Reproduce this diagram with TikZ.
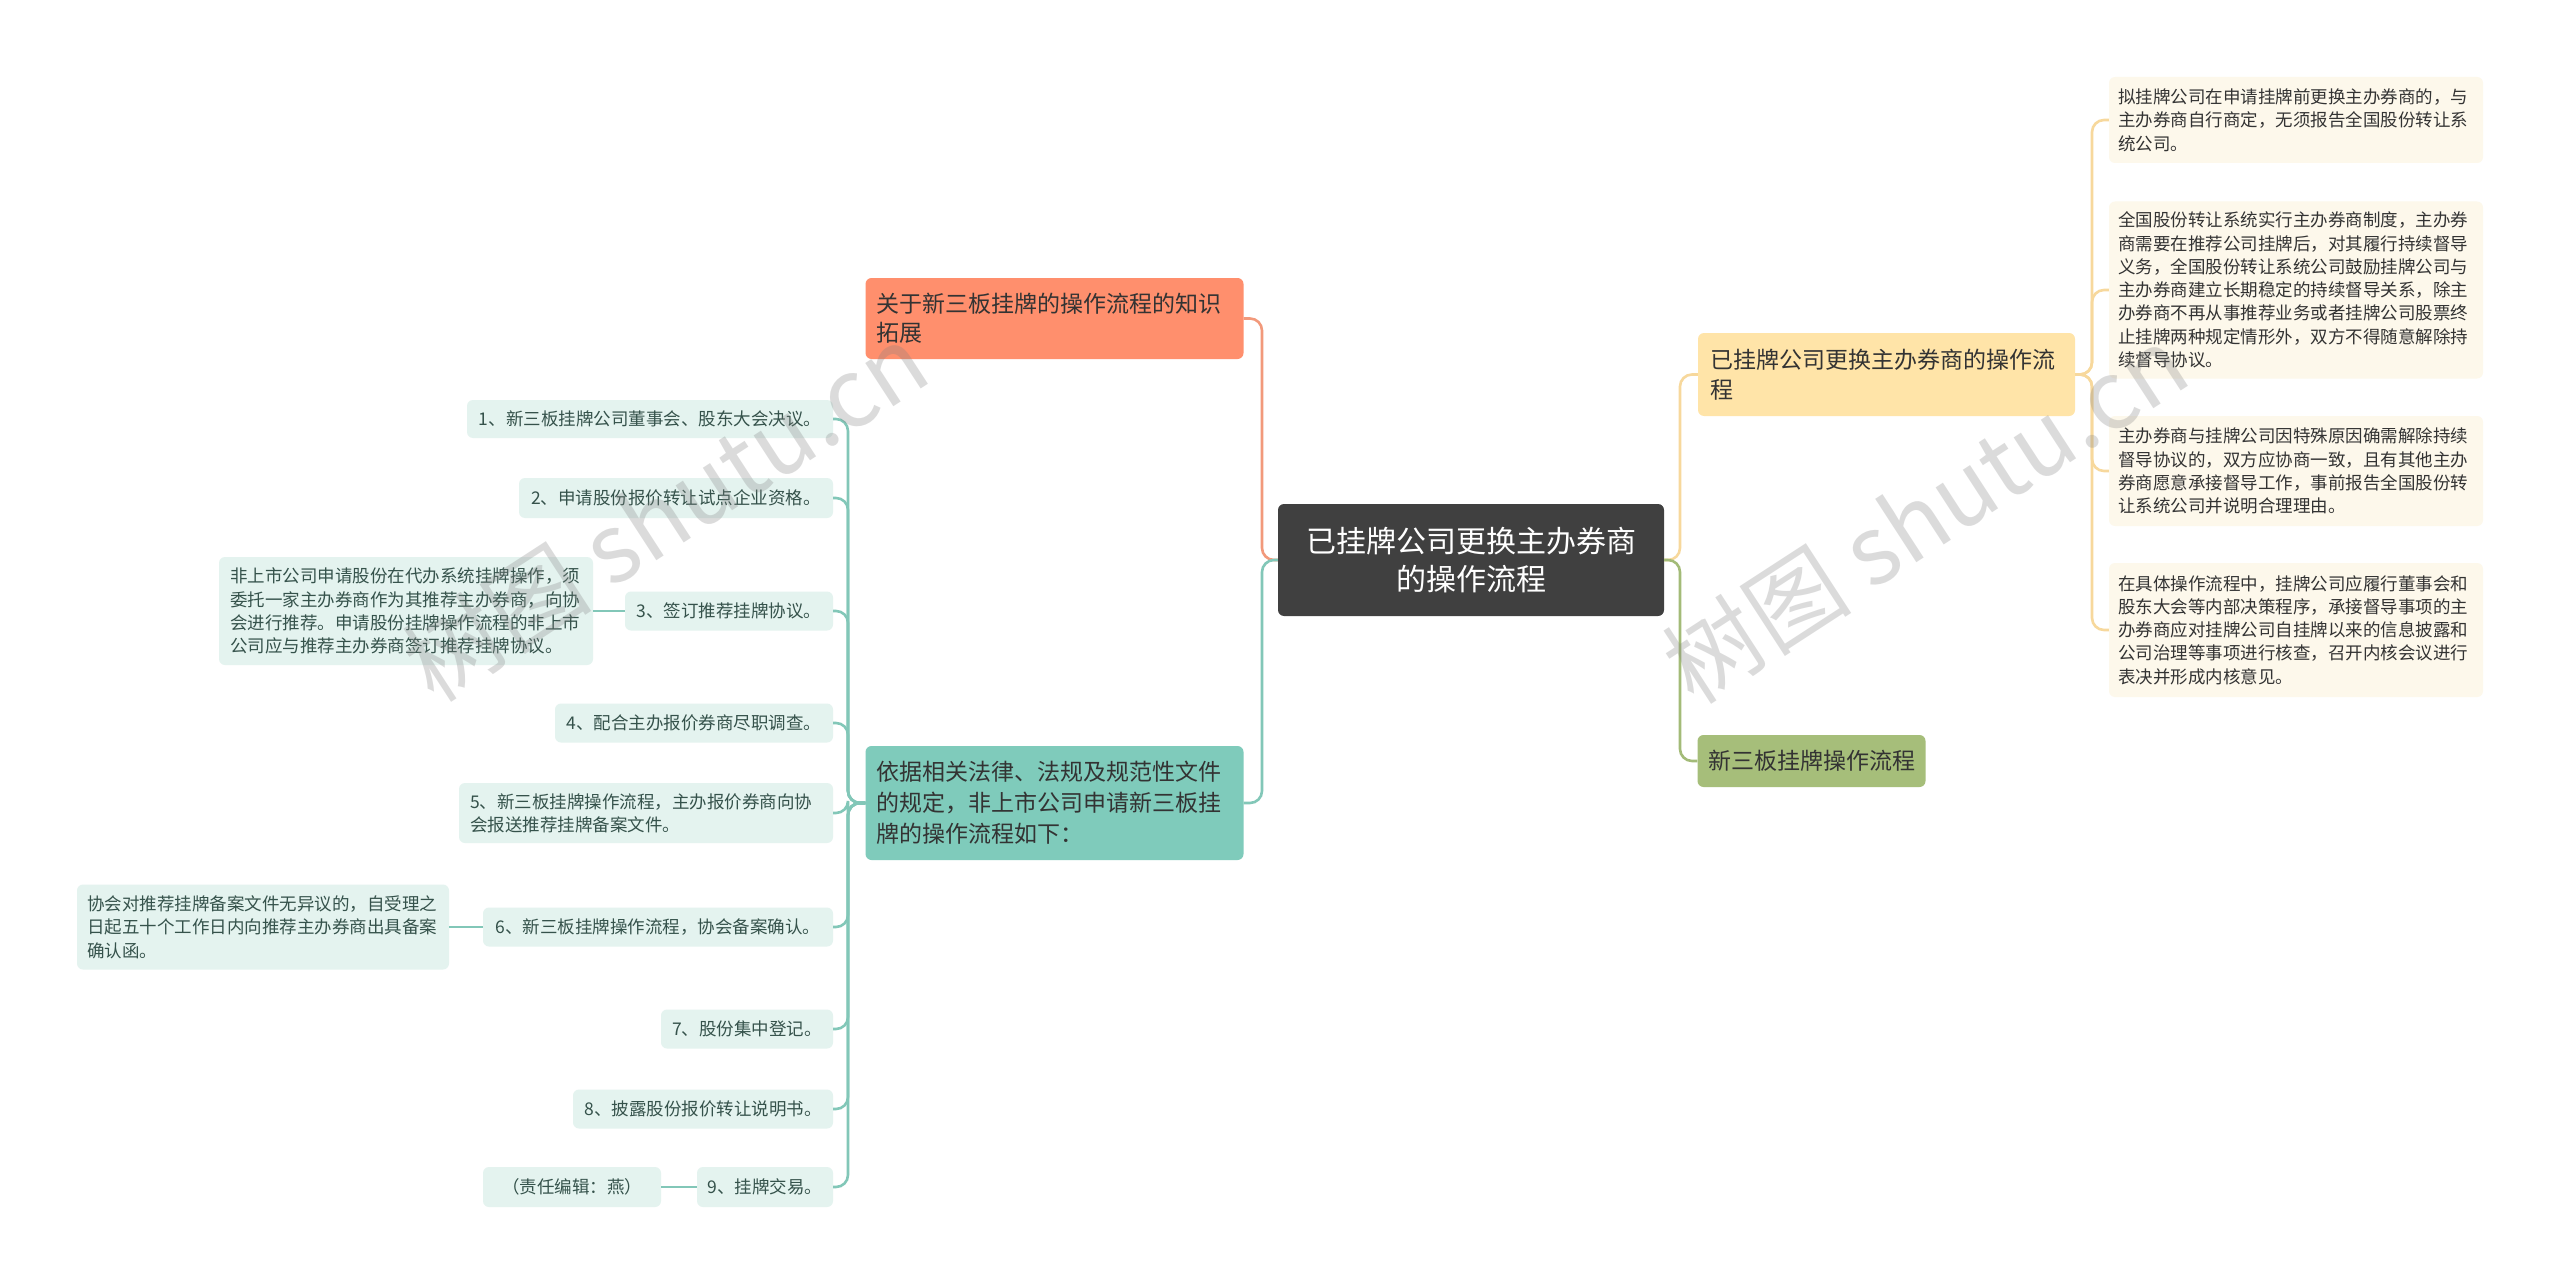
\documentclass[tikz,border=0pt]{standalone}
\usepackage{fontspec}
\newfontfamily\cjk{Noto Sans CJK SC}
\definecolor{rootc}{HTML}{404040}
\definecolor{orangec}{HTML}{FF8F6D}
\definecolor{orangeline}{HTML}{F2997B}
\definecolor{tealc}{HTML}{7FCBBB}
\definecolor{tealline}{HTML}{82C7B8}
\definecolor{tealfill}{HTML}{E4F3EF}
\definecolor{yellowc}{HTML}{FFE4A8}
\definecolor{yellowline}{HTML}{F7D89C}
\definecolor{cream}{HTML}{FDF8EB}
\definecolor{greenc}{HTML}{A6BE7A}
\definecolor{greenline}{HTML}{A3BB78}
\definecolor{lefttext}{HTML}{35524B}
\definecolor{darktext}{HTML}{333333}
\begin{document}
\begin{tikzpicture}[x=1pt,y=-1pt,
  box/.style={rounded corners=6pt, inner ysep=0pt, inner xsep=0pt},
  bigfont/.style={font={\cjk\fontsize{23}{#1}\selectfont}},
  smallfont/.style={font={\cjk\fontsize{17.5}{23.3}\selectfont}},
  rootbox/.style={box, fill=rootc, text=white, align=center, font={\cjk\fontsize{30}{38}\selectfont}},
  orangebox/.style={box, fill=orangec, text=black!80, align=left, inner xsep=11pt},
  tealbox/.style={box, fill=tealc, text=black!80, align=left, inner xsep=11pt},
  yellowbox/.style={box, fill=yellowc, text=darktext, align=left, inner xsep=12pt},
  greenbox/.style={box, fill=greenc, text=black!80, align=center},
  creambox/.style={box, fill=cream, text=darktext, align=left, inner xsep=9pt, smallfont},
  leafbox/.style={box, fill=tealfill, text=lefttext, smallfont},
  conn/.style={line width=2.6pt, rounded corners=12pt},
  wmark/.style={text=gray, opacity=0.28, font={\cjk\fontsize{95}{95}\selectfont}},
]
\useasboundingbox (0,0) rectangle (2560,1284);
\fill[white] (0,0) rectangle (2560,1284);

% main nodes
\node[rootbox, minimum width=386, minimum height=112] (root) at (1471,560) {已挂牌公司更换主办券商\\的操作流程};
\node[orangebox, bigfont=29, text width=356, minimum height=81] (ora) at (1054.5,318.5) {关于新三板挂牌的操作流程的知识\\拓展};
\node[tealbox, bigfont=31, text width=356, minimum height=114] (tea) at (1054.5,803) {依据相关法律、法规及规范性文件\\的规定，非上市公司申请新三板挂\\牌的操作流程如下：};
\node[yellowbox, bigfont=30, text width=353, minimum height=83] (yel) at (1886.5,374.5) {已挂牌公司更换主办券商的操作流\\程};
\node[greenbox, bigfont=30, minimum width=228, minimum height=52] (gre) at (1811.5,761) {新三板挂牌操作流程};

% right cream boxes
\node[creambox, text width=356, minimum height=86] (r1) at (2296,120) {拟挂牌公司在申请挂牌前更换主办券商的，与\\主办券商自行商定，无须报告全国股份转让系\\统公司。};
\node[creambox, text width=356, minimum height=177] (r2) at (2296,290) {全国股份转让系统实行主办券商制度，主办券\\商需要在推荐公司挂牌后，对其履行持续督导\\义务，全国股份转让系统公司鼓励挂牌公司与\\主办券商建立长期稳定的持续督导关系，除主\\办券商不再从事推荐业务或者挂牌公司股票终\\止挂牌两种规定情形外，双方不得随意解除持\\续督导协议。};
\node[creambox, text width=356, minimum height=110] (r3) at (2296,471) {主办券商与挂牌公司因特殊原因确需解除持续\\督导协议的，双方应协商一致，且有其他主办\\券商愿意承接督导工作，事前报告全国股份转\\让系统公司并说明合理理由。};
\node[creambox, text width=356, minimum height=134] (r4) at (2296,630) {在具体操作流程中，挂牌公司应履行董事会和\\股东大会等内部决策程序，承接督导事项的主\\办券商应对挂牌公司自挂牌以来的信息披露和\\公司治理等事项进行核查，召开内核会议进行\\表决并形成内核意见。};

% left leaf boxes
\node[leafbox, minimum width=366, minimum height=38] (i1) at (650,419) {1、新三板挂牌公司董事会、股东大会决议。};
\node[leafbox, minimum width=314, minimum height=40] (i2) at (676,498) {2、申请股份报价转让试点企业资格。};
\node[leafbox, minimum width=208, minimum height=39] (i3) at (729,611) {3、签订推荐挂牌协议。};
\node[leafbox, align=left, inner xsep=11pt, text width=352, minimum height=108] (i3c) at (406,611) {非上市公司申请股份在代办系统挂牌操作，须\\委托一家主办券商作为其推荐主办券商，向协\\会进行推荐。申请股份挂牌操作流程的非上市\\公司应与推荐主办券商签订推荐挂牌协议。};
\node[leafbox, minimum width=278, minimum height=39] (i4) at (694,723) {4、配合主办报价券商尽职调查。};
\node[leafbox, align=left, inner xsep=11pt, text width=352, minimum height=60] (i5) at (646,813) {5、新三板挂牌操作流程，主办报价券商向协\\会报送推荐挂牌备案文件。};
\node[leafbox, minimum width=350, minimum height=39] (i6) at (658,927) {6、新三板挂牌操作流程，协会备案确认。};
\node[leafbox, align=left, inner xsep=10pt, text width=352, minimum height=85] (i6c) at (263,927) {协会对推荐挂牌备案文件无异议的，自受理之\\日起五十个工作日内向推荐主办券商出具备案\\确认函。};
\node[leafbox, minimum width=172, minimum height=39] (i7) at (747,1029) {7、股份集中登记。};
\node[leafbox, minimum width=260, minimum height=39] (i8) at (703,1109) {8、披露股份报价转让说明书。};
\node[leafbox, minimum width=136, minimum height=40] (i9) at (765,1187) {9、挂牌交易。};
\node[leafbox, minimum width=178, minimum height=40] (i9c) at (572,1187) {（责任编辑：燕）};

% connectors: root to main branches
\draw[conn, orangeline] (root.west) -- (1262,560) -- (1262,318.5) -- (ora.east);
\draw[conn, tealline] (root.west) -- (1262,560) -- (1262,803) -- (tea.east);
\draw[conn, yellowline] (root.east) -- (1680,560) -- (1680,374.5) -- (yel.west);
\draw[conn, greenline] (root.east) -- (1680,560) -- (1680,761) -- (gre.west);

% yellow to cream boxes
\foreach \r in {r1,r2,r3,r4}
  \draw[conn, yellowline] (yel.east) -- (2092,374.5) |- (\r.west);

% teal to leaves
\foreach \i in {i1,i2,i3,i4,i5,i6,i7,i8,i9}
  \draw[conn, tealline] (tea.west) -- (848,803) |- (\i.east);
\draw[conn, tealline] (i3.west) -- (i3c.east);
\draw[conn, tealline] (i6.west) -- (i6c.east);
\draw[conn, tealline] (i9.west) -- (i9c.east);

% watermarks
\node[wmark, rotate=33] (wm1) at (665,512) {树图 shutu.cn};
\node[wmark, rotate=33] (wm2) at (1925,514) {树图 shutu.cn};
\end{tikzpicture}
\end{document}
